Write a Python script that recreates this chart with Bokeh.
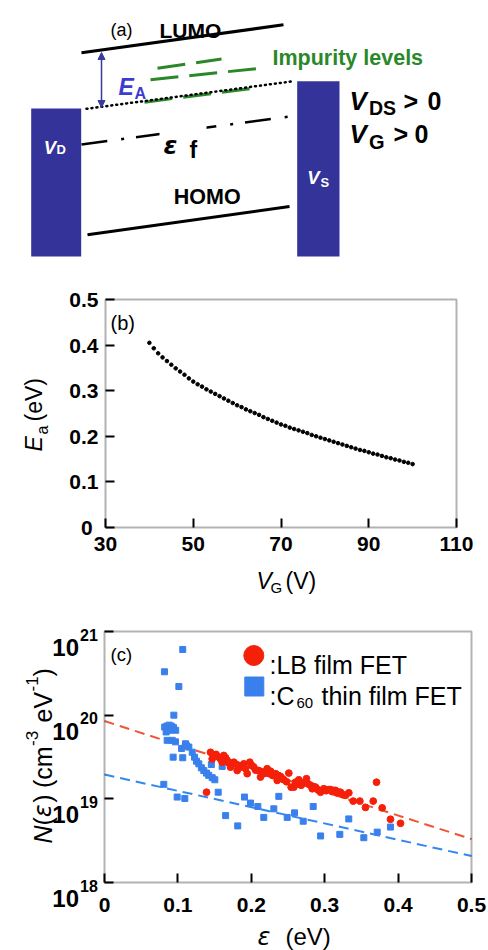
import math
from bokeh.plotting import figure
from bokeh.models import (Range1d, Label, Arrow, NormalHead, FixedTicker, CustomJSTickFormatter,
                          LinearAxis, LogAxis, LogScale, BoxAnnotation)
from bokeh.embed import file_html
from bokeh.resources import INLINE

SANS = "Liberation Sans"
GREEKF = "DejaVu Sans"

# ---------------- panel (a): energy-level schematic (page pixel coordinates) ----------------
LUMO_X = [81, 283]
LUMO_Y = [52.3, 24.3]
HOMO_X = [87, 289]
HOMO_Y = [234.3, 206]
EDGE_X = [86, 293]
EDGE_Y = [108.3, 80.7]
FERMI_X = [81, 289]
FERMI_Y = [144, 116]
IMP_X0 = [157, 150, 144]
IMP_Y0 = [67.7, 79.3, 101.7]
IMP_X1 = [221, 260, 253]
IMP_Y1 = [58.5, 67.7, 87.7]
ELEC_LEFT = [30.7, 296.7]
ELEC_RIGHT = [80.7, 339]
ELEC_TOP = [108, 80.7]
ELEC_BOTTOM = [256, 256]
ARROW_X = 101
ARROW_Y0 = 107
ARROW_Y1 = 52

# ---------------- panel (b): activation energy vs gate voltage ----------------
VG = list(range(40, 101))
EA = [0.405, 0.393, 0.382, 0.373, 0.365, 0.357, 0.349, 0.342, 0.335, 0.327, 0.320,
      0.314, 0.309, 0.303, 0.298, 0.293, 0.288, 0.283, 0.278, 0.273, 0.268,
      0.264, 0.259, 0.255, 0.251, 0.247, 0.242, 0.238, 0.234, 0.230, 0.226,
      0.223, 0.219, 0.216, 0.213, 0.210, 0.207, 0.203, 0.200, 0.197, 0.194,
      0.191, 0.188, 0.185, 0.182, 0.179, 0.176, 0.173, 0.170, 0.168, 0.165,
      0.162, 0.160, 0.157, 0.154, 0.152, 0.149, 0.147, 0.144, 0.142, 0.139]
B_XLIM = [30, 110]
B_YLIM = [0, 0.5]
B_XTICKS = [30, 50, 70, 90, 110]
B_YTICKS = [0, 0.1, 0.2, 0.3, 0.4, 0.5]
B_YLABELS = {0: "0\u00a0", 0.1: "0.1", 0.2: "0.2", 0.3: "0.3", 0.4: "0.4", 0.5: "0.5"}

# ---------------- panel (c): density of states ----------------
LB_E = [0.139, 0.1444, 0.1467, 0.149, 0.152, 0.1557, 0.158, 0.1603, 0.1625, 0.165, 0.1672,
        0.169, 0.1717, 0.174, 0.1762, 0.179, 0.1808, 0.183, 0.186, 0.1898, 0.192, 0.1944,
        0.198, 0.201, 0.2035, 0.206, 0.2102, 0.2125, 0.215, 0.217, 0.2216, 0.224, 0.2262,
        0.229, 0.233, 0.2353, 0.237, 0.2398, 0.242, 0.2443, 0.248, 0.2511, 0.2543, 0.2579,
        0.2602, 0.262, 0.2647, 0.268, 0.271, 0.2752, 0.278, 0.2807, 0.283, 0.285, 0.2875,
        0.290, 0.292, 0.2943, 0.2988, 0.302, 0.3056, 0.3079, 0.310, 0.3124, 0.3147, 0.317,
        0.3192, 0.3215, 0.325, 0.3283, 0.3329, 0.3388, 0.3479, 0.3556, 0.3661, 0.3706,
        0.3783, 0.3896, 0.4033]
LB_N = [1.2e19, 3.6e19, 3.0e19, 3.3e19, 3.4e19, 3.15e19, 3.0e19, 2.74e19, 3.3e19, 3.1e19, 2.88e19,
        2.7e19, 2.39e19, 2.62e19, 2.74e19, 2.6e19, 2.18e19, 2.51e19, 2.4e19, 2.62e19, 2.3e19, 2.0e19,
        2.74e19, 2.5e19, 2.39e19, 2.2e19, 2.18e19, 1.82e19, 2.1e19, 2.0e19, 2.29e19, 2.0e19, 2.14e19,
        1.9e19, 2.0e19, 1.66e19, 1.9e19, 1.85e19, 1.75e19, 1.69e19, 1.6e19, 2.03e19, 1.38e19, 1.38e19,
        1.58e19, 1.5e19, 1.69e19, 1.45e19, 1.55e19, 1.74e19, 1.5e19, 1.45e19, 1.32e19, 1.4e19, 1.38e19,
        1.3e19, 1.26e19, 1.2e19, 1.32e19, 1.25e19, 1.29e19, 1.29e19, 1.22e19, 1.26e19, 1.26e19, 1.18e19,
        1.2e19, 1.2e19, 1.12e19, 1.1e19, 1.18e19, 9.4e18, 9.4e18, 7.9e18, 9.4e18, 1.58e19,
        7.8e18, 5.7e18, 5.1e18]
C60_E = [0.1066, 0.0817, 0.1013, 0.0945, 0.082, 0.085, 0.088, 0.091, 0.094, 0.097, 0.084, 0.089,
         0.0854, 0.0922, 0.0967, 0.0935, 0.1066, 0.105, 0.112,
         0.1104, 0.1149, 0.1195, 0.1226, 0.1253, 0.1285, 0.132, 0.1353, 0.139, 0.142, 0.1467, 0.1503,
         0.1456, 0.1603, 0.1549, 0.0808, 0.099, 0.1094,
         0.165, 0.1815, 0.1907, 0.1989, 0.2089, 0.217, 0.2307, 0.2375, 0.2489, 0.2589, 0.2707,
         0.2843, 0.2944, 0.3206, 0.3328, 0.3533, 0.3715, 0.3896]
C60_N = [6.1e20, 3.3e20, 2.2e20, 1.0e20, 7.2e19, 7.4e19, 7.6e19, 7.4e19, 7.1e19, 6.6e19, 6.3e19, 6.6e19,
         5.0e19, 5.0e19, 4.8e19, 3.15e19, 3.1e19, 4.0e19, 4.3e19,
         4.55e19, 4.15e19, 3.61e19, 3.15e19, 2.82e19, 2.62e19, 2.35e19, 2.18e19, 2.03e19, 1.91e19, 1.79e19, 1.69e19,
         2.57e19, 2.44e19, 1.2e19, 1.49e19, 1.05e19, 1.01e19,
         6.3e18, 4.75e18, 1.05e19, 8.9e18, 8.1e18, 6.0e18, 7.6e18, 1.07e19, 6.0e18, 6.8e18, 5.4e18,
         8.1e18, 3.6e18, 3.76e18, 5.75e18, 3.43e18, 4.0e18, 4.6e18]
FIT_E = [0.0, 0.5]
LB_FIT = [8.5e19, 3.3e18]
C60_FIT = [1.95e19, 2.07e18]
C_XLIM = [0, 0.5]
C_YLIM = [1e18, 1e21]
C_XTICKS = [0, 0.1, 0.2, 0.3, 0.4, 0.5]
C_XLABELS = {0: "0", 0.1: "0.1", 0.2: "0.2", 0.3: "0.3", 0.4: "0.4", 0.5: "0.5"}
C_YTICKS = [1e18, 1e19, 1e20, 1e21]
C_YEXP = ["18", "19", "20", "21"]

ELEC_COLOR = "#33339a"
GREEN = "#2a882a"
EA_BLUE = "#3c3cd0"
ARROW_COLOR = "#3b3b9e"
RED = "#f5200a"
BLUE = "#3a80ec"

W, H = 488, 950
# plot boxes of panels (b) and (c) on the page, in pixels
B_L, B_R, B_T, B_B = 105, 456, 299, 527
C_L, C_R, C_T, C_B = 104, 471, 631, 882


def bx(px):
    return B_XLIM[0] + (px - B_L) * (B_XLIM[1] - B_XLIM[0]) / (B_R - B_L)


def by(py):
    return B_YLIM[0] + (B_B - py) * (B_YLIM[1] - B_YLIM[0]) / (B_B - B_T)


def cx(px):
    return C_XLIM[0] + (px - C_L) * (C_XLIM[1] - C_XLIM[0]) / (C_R - C_L)


def cy(py):
    lo, hi = math.log10(C_YLIM[0]), math.log10(C_YLIM[1])
    return 10 ** (hi - (py - C_T) * (hi - lo) / (C_B - C_T))


p = figure(width=W, height=H, x_range=Range1d(0, W), y_range=Range1d(H, 0),
           x_axis_type=None, y_axis_type=None, min_border=0,
           output_backend="svg", toolbar_location=None)
p.outline_line_color = None
p.extra_x_ranges = {"bx": Range1d(bx(0), bx(W)), "cx": Range1d(cx(0), cx(W))}
p.extra_y_ranges = {"by": Range1d(by(H), by(0)), "cy": Range1d(cy(H), cy(0))}
p.extra_y_scales = {"cy": LogScale()}


def add_text(x, y, text, size, style="normal", color="black", align="left",
             baseline="alphabetic", angle=0.0, font=SANS):
    p.add_layout(Label(x=x, y=y, text=text, text_font=font, text_font_size=f"{size}px",
                       text_font_style=style, text_color=color, text_align=align,
                       text_baseline=baseline, angle=angle))


def style_axis(ax):
    ax.axis_line_color = None
    ax.major_tick_in = 9
    ax.major_tick_out = 0
    ax.major_tick_line_width = 2
    ax.major_tick_line_color = "black"
    ax.minor_tick_line_color = None
    ax.major_label_text_font = SANS
    ax.major_label_text_font_size = "21px"
    ax.major_label_text_font_style = "bold"
    ax.major_label_text_color = "black"


# ================= panel (a) =================
p.quad(left=ELEC_LEFT, right=ELEC_RIGHT, top=ELEC_TOP, bottom=ELEC_BOTTOM,
       fill_color=ELEC_COLOR, line_color=None)
p.line(LUMO_X, LUMO_Y, line_width=3, line_color="black")
p.line(HOMO_X, HOMO_Y, line_width=3, line_color="black")
p.line(FERMI_X, FERMI_Y, line_width=2.5, line_color="black", line_dash="26 14 3 12")
p.quad(left=[159], right=[206], top=[119], bottom=[153], fill_color="white", line_color=None)
p.segment(IMP_X0, IMP_Y0, IMP_X1, IMP_Y1, line_width=3, line_color=GREEN, line_dash="28 11")
p.line(EDGE_X, EDGE_Y, line_width=2.5, line_color="black", line_dash="1 4", line_cap="round")
p.add_layout(Arrow(x_start=ARROW_X, y_start=ARROW_Y0, x_end=ARROW_X, y_end=ARROW_Y1,
                   start=NormalHead(size=7, fill_color=ARROW_COLOR, line_color=ARROW_COLOR),
                   end=NormalHead(size=7, fill_color=ARROW_COLOR, line_color=ARROW_COLOR),
                   line_color=ARROW_COLOR, line_width=1.5))

add_text(110, 29.5, "(a)", 18)
add_text(159, 30, "LUMO", 21, "bold")
add_text(272, 57.3, "Impurity levels", 21.5, "bold", GREEN)
add_text(118, 86.7, "E", 23, "bold italic", EA_BLUE)
add_text(134, 93.3, "A", 16, "bold", EA_BLUE)
add_text(349, 100, "V", 26, "bold italic")
add_text(368.5, 107.3, "DS", 19.5, "bold")
add_text(403, 100, ">", 25, "bold")
add_text(427, 100, "0", 25, "bold")
add_text(349, 133.3, "V", 26, "bold italic")
add_text(368.5, 141.7, "G", 20, "bold")
add_text(393, 133.3, ">", 25, "bold")
add_text(414, 133.3, "0", 25, "bold")
add_text(43.3, 146.7, "V", 18.5, "bold italic", "white")
add_text(56, 149, "D", 13, "bold", "white")
add_text(306.7, 176.7, "V", 18.5, "bold italic", "white")
add_text(320, 181.7, "S", 13, "bold", "white")
add_text(173.3, 196.7, "HOMO", 21.5, "bold")
add_text(163, 145, "ε", 25, "bold italic", font=GREEKF)
add_text(189, 149, "f", 23, "bold")

# ================= panel (b) =================
xb = LinearAxis(x_range_name="bx", y_range_name="by", fixed_location=B_YLIM[0],
                ticker=FixedTicker(ticks=B_XTICKS))
yb = LinearAxis(x_range_name="bx", y_range_name="by", fixed_location=B_XLIM[0],
                ticker=FixedTicker(ticks=B_YTICKS), major_label_overrides=B_YLABELS)
style_axis(xb)
style_axis(yb)
xb.major_label_standoff = 9
yb.major_label_standoff = 7
p.add_layout(xb, "below")
p.add_layout(yb, "left")
p.add_layout(BoxAnnotation(left=B_XLIM[0], right=B_XLIM[1], bottom=B_YLIM[0], top=B_YLIM[1],
                           x_range_name="bx", y_range_name="by",
                           fill_color=None, line_color="black", line_width=2))
p.scatter(VG, EA, size=3.6, color="black", x_range_name="bx", y_range_name="by")

add_text(110, 322.8, "(b)", 20)
add_text(256, 580, "V", 23, "italic")
add_text(270, 587, "G", 15)
add_text(285, 580, "(V)", 23)
R = math.pi / 2
add_text(33.5, 451, "E", 23, "italic", angle=R)
add_text(41.5, 434, "a", 16, angle=R)
add_text(33.5, 421, "(eV)", 23, angle=R)

# ================= panel (c) =================
xc = LinearAxis(x_range_name="cx", y_range_name="cy", fixed_location=C_YLIM[0],
                ticker=FixedTicker(ticks=C_XTICKS), major_label_overrides=C_XLABELS)
yc = LogAxis(x_range_name="cx", y_range_name="cy", fixed_location=C_XLIM[0],
             ticker=FixedTicker(ticks=C_YTICKS),
             formatter=CustomJSTickFormatter(code="return ''"))
style_axis(xc)
style_axis(yc)
xc.major_label_standoff = 15
p.add_layout(xc, "below")
p.add_layout(yc, "left")
p.add_layout(BoxAnnotation(left=C_XLIM[0], right=C_XLIM[1], bottom=C_YLIM[0], top=C_YLIM[1],
                           x_range_name="cx", y_range_name="cy",
                           fill_color=None, line_color="black", line_width=2))

p.line(FIT_E, LB_FIT, line_width=2, line_color="#ee5533", line_dash="10 6",
       x_range_name="cx", y_range_name="cy")
p.line(FIT_E, C60_FIT, line_width=2, line_color="#3388ee", line_dash="10 6",
       x_range_name="cx", y_range_name="cy")
p.scatter(C60_E, C60_N, marker="square", size=6, color=BLUE, x_range_name="cx", y_range_name="cy")
p.scatter(LB_E, LB_N, marker="circle", size=6.8, color=RED, x_range_name="cx", y_range_name="cy")

# legend
p.scatter([253.3], [655], marker="circle", size=20, color=RED)
p.scatter([253.8], [686], marker="square", size=19, color=BLUE)
add_text(269, 664, ":LB film FET", 25)
add_text(269, 695, ":C", 25)
add_text(296, 702, "60", 15)
add_text(321, 695, "thin film FET", 25)
add_text(110, 654, "(c)", 18.5)

# log tick labels 10^n
for t, e in zip(C_YTICKS, C_YEXP):
    py = C_T + (math.log10(C_YLIM[1]) - math.log10(t)) * (C_B - C_T) / 3
    add_text(78.5, py + 16, "10", 24, "bold", align="right")
    add_text(79.5, py + 3, e, 16, "bold")

# x label
add_text(257, 936, "ε", 24, "italic", font=GREEKF)
add_text(285, 936, "(eV)", 24)

# y label (rotated)
add_text(42, 843, "N", 25, "italic", angle=R)
add_text(42, 825, "(", 25, angle=R)
add_text(42, 816.7, "ε", 24, "italic", angle=R, font=GREEKF)
add_text(42, 802.2, ")", 25, angle=R)
add_text(42, 787.5, "(cm", 25, angle=R)
add_text(31, 745.5, "-3", 17, angle=R)
add_text(42, 722, "eV", 25, angle=R)
add_text(31, 691, "-1", 17, angle=R)
add_text(42, 676, ")", 25, angle=R)

open("out.html", "w").write(file_html(p, INLINE))
